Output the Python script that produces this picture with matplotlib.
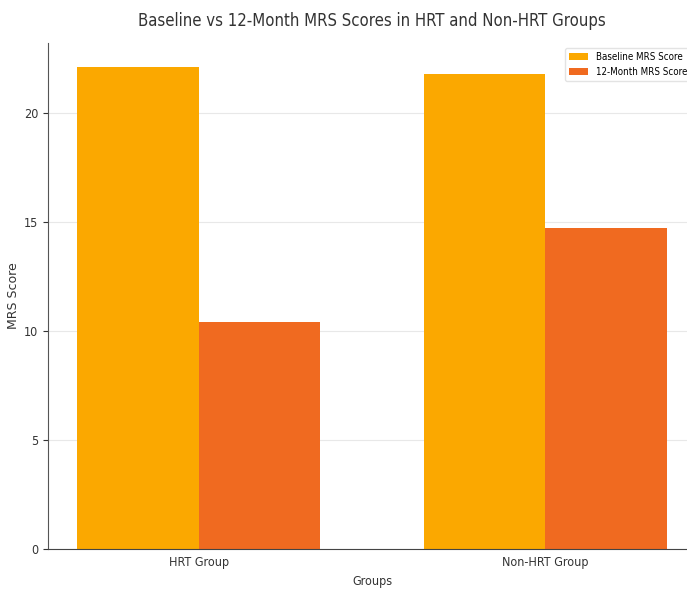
import matplotlib
matplotlib.use("Agg")
import matplotlib.pyplot as plt
import numpy as np

groups = ["HRT Group", "Non-HRT Group"]
baseline = [22.1, 21.8]
month12 = [10.4, 14.7]

plt.rcParams['font.family'] = ['DejaVu Sans']
plt.rcParams['font.stretch'] = 'condensed'

fig = plt.figure(figsize=(6.87, 5.91), dpi=100)
ax = fig.add_axes([48/687, 42/591, 648/687, 506/591])

x = np.arange(len(groups))
width = 0.35

ax.bar(x - width/2, baseline, width, label='Baseline MRS Score', color='#fba800')
ax.bar(x + width/2, month12, width, label='12-Month MRS Score', color='#f06a20')

ax.set_xticks(x)
ax.set_xticklabels(groups, fontsize=9, color='#333333')
ax.set_yticks([0, 5, 10, 15, 20])
ax.tick_params(axis='y', labelsize=9, colors='#333333')
ax.tick_params(axis='x', length=0, pad=5)
ax.set_xlabel('Groups', fontsize=9, color='#333333', labelpad=4)
ax.set_ylabel('MRS Score', fontsize=9, color='#333333', labelpad=3,
              fontstretch='normal')
ax.set_title('Baseline vs 12-Month MRS Scores in HRT and Non-HRT Groups',
             fontsize=12, color='#333333', pad=12)

ax.grid(axis='y', color='#e8e8e8', linewidth=0.8)
ax.set_axisbelow(True)
for s in ['top', 'right']:
    ax.spines[s].set_visible(False)
ax.spines['left'].set_color('#555555')
ax.spines['bottom'].set_color('#444444')

ax.legend(loc='upper right', fontsize=7, frameon=True, edgecolor='#dddddd')

fig.savefig('out.png', dpi=100)
